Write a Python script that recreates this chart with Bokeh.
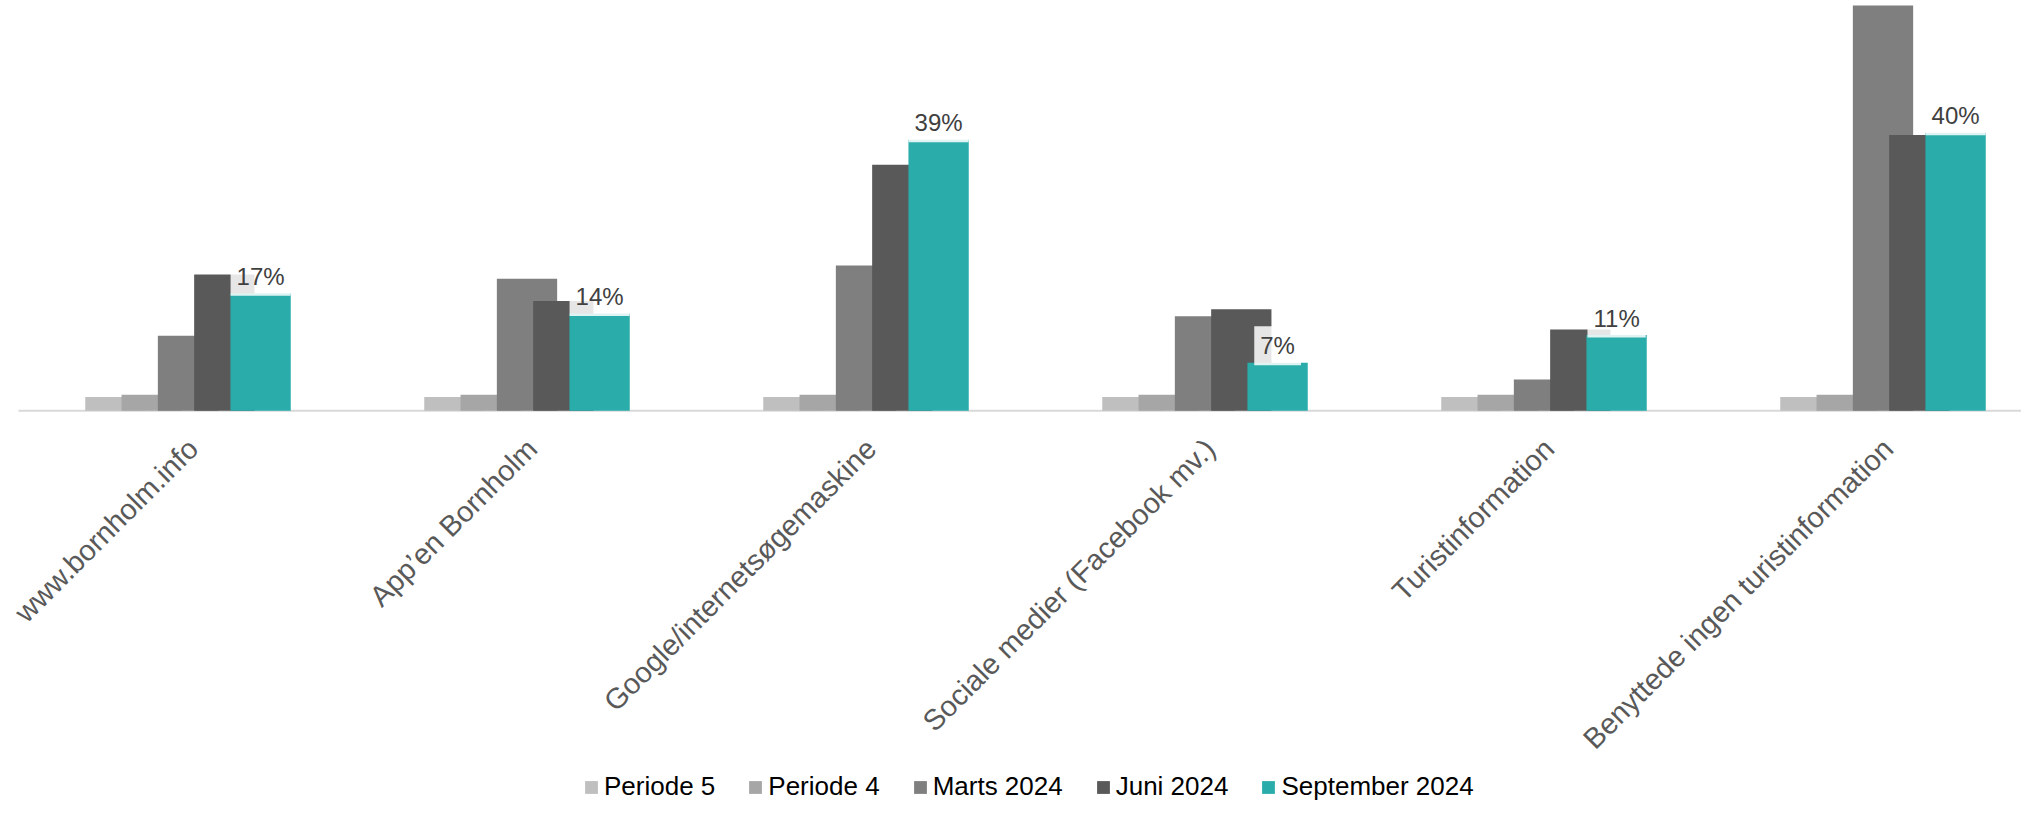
from math import pi
from bokeh.plotting import figure
from bokeh.models import ColumnDataSource, Legend, LegendItem, Range1d
from bokeh.transform import dodge
from bokeh.core.properties import value
from bokeh.embed import file_html
from bokeh.resources import INLINE

categories = [
    "www.bornholm.info",
    "App\u2019en Bornholm",
    "Google/internetsøgemaskine",
    "Sociale medier (Facebook mv.)",
    "Turistinformation",
    "Benyttede ingen turistinformation",
]
series_names = ["Periode 5", "Periode 4", "Marts 2024", "Juni 2024", "September 2024"]
periode5 = [2.0, 2.0, 2.0, 2.0, 2.0, 2.0]
periode4 = [2.3, 2.3, 2.3, 2.3, 2.3, 2.3]
marts2024 = [10.8, 19.0, 20.9, 13.6, 4.5, 58.3]
juni2024 = [19.6, 15.8, 35.4, 14.6, 11.7, 39.7]
september2024 = [16.9, 14.0, 39.0, 6.9, 10.9, 40.0]
september_labels = ["17%", "14%", "39%", "7%", "11%", "40%"]

colors = ["#bfbfbf", "#a6a6a6", "#7f7f7f", "#595959", "#2aadaa"]

n_cat = len(categories)
x_centers = [i + 0.5 for i in range(n_cat)]
source = ColumnDataSource(dict(
    x=x_centers,
    base=[0] * n_cat,
    cat=categories,
    p5=periode5, p4=periode4, marts=marts2024, juni=juni2024, sept=september2024,
    sept_label=september_labels,
))
cols = ["p5", "p4", "marts", "juni", "sept"]

# layout constants (pixels)
W, H = 2021, 802
LEFT_PX = 18.0        # left edge of the category area
BASE_PX = 410.3       # baseline distance from top
CAT_PX = 339.0        # width of one category
PX_PER_PCT = 6.95     # vertical scale

p = figure(
    width=W, height=H,
    x_range=Range1d(-LEFT_PX / CAT_PX, (W - LEFT_PX) / CAT_PX),
    y_range=Range1d(-(H - BASE_PX) / PX_PER_PCT, BASE_PX / PX_PER_PCT),
    output_backend="svg", toolbar_location=None,
    min_border=0, x_axis_location=None, y_axis_location=None,
)
p.outline_line_color = None
p.xgrid.visible = False
p.ygrid.visible = False
p.background_fill_color = "white"
p.border_fill_color = "white"

# category axis baseline
p.segment(x0=[0], y0=[0], x1=[n_cat], y1=[0], line_color="#d9d9d9", line_width=2)

step = 36.3 / CAT_PX
bar_w = 60.3 / CAT_PX

renderers = []
for k, (col, color) in enumerate(zip(cols, colors)):
    r = p.vbar(x=dodge("x", (k - 2) * step, range=p.x_range), top=col, bottom=0,
               width=bar_w, source=source, fill_color=color, line_color=None)
    renderers.append(r)

# data labels for September 2024
p.text(x=dodge("x", 2 * step, range=p.x_range), y="sept", text="sept_label", source=source,
       y_offset=-17, text_align="center", text_baseline="alphabetic",
       text_font=value("Liberation Sans"), text_font_size="24px", text_color="#404040",
       background_fill_color="white", background_fill_alpha=0.85, padding=6)

# rotated category labels under the baseline
p.text(x="x", y="base", text="cat", source=source,
       angle=pi / 4, x_offset=5, y_offset=33,
       text_align="right", text_baseline="middle",
       text_font=value("Liberation Sans"), text_font_size="29px", text_color="#595959")

legend = Legend(
    items=[LegendItem(label=n, renderers=[r]) for n, r in zip(series_names, renderers)],
    orientation="horizontal", location=(583, 0),
    glyph_width=16, glyph_height=16, label_standoff=5, spacing=32,
    padding=0, margin=0, border_line_color=None, background_fill_alpha=0,
    label_text_font="Liberation Sans", label_text_font_size="26px", label_text_color="black",
)
p.add_layout(legend)

open("out.html", "w").write(file_html(p, INLINE))
